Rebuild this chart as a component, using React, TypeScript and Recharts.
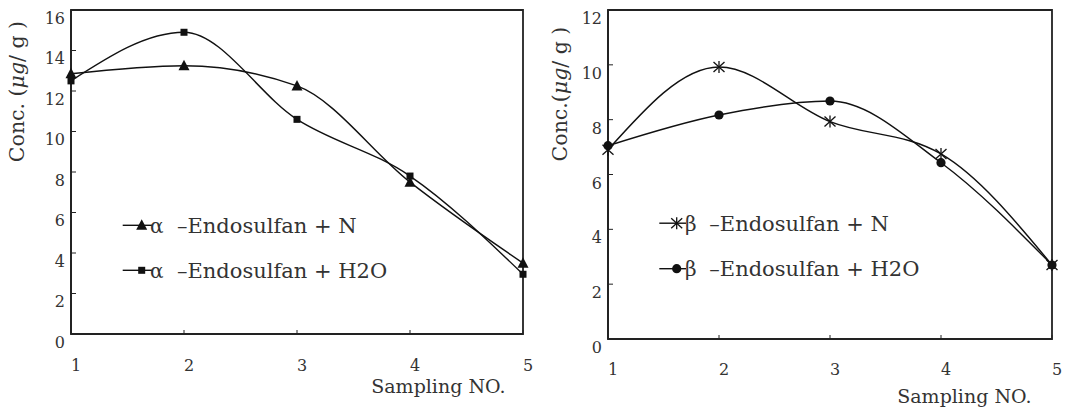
import { Line, LineChart, ReferenceArea, XAxis, YAxis } from "recharts";

// values
const samplingNo = [1, 2, 3, 4, 5];
const alphaN = [12.85, 13.25, 12.25, 7.5, 3.5];
const alphaH2O = [12.5, 14.9, 10.6, 7.8, 2.95];
const betaN = [6.9, 9.92, 7.93, 6.75, 2.7];
const betaH2O = [7.05, 8.17, 8.68, 6.43, 2.7];

const alphaTicks = [0, 2, 4, 6, 8, 10, 12, 14, 16];
const betaTicks = [0, 2, 4, 6, 8, 10, 12];

const alphaNames = ["α –Endosulfan + N", "α –Endosulfan + H2O"];
const betaNames = ["β –Endosulfan + N", "β –Endosulfan + H2O"];

const alphaRows = samplingNo.map((n, i) => ({ n, s1: alphaN[i], s2: alphaH2O[i] }));
const betaRows = samplingNo.map((n, i) => ({ n, s1: betaN[i], s2: betaH2O[i] }));

const FONT = "'DejaVu Serif', serif";
const INK = "#222";
const TXT = "#333";

type Mark = "triangle" | "square" | "asterisk" | "circle";

function Marker({ kind, cx, cy }: { kind: Mark; cx: number; cy: number }) {
  if (kind === "triangle") {
    return (
      <polygon
        points={`${cx},${cy - 6} ${cx - 5.5},${cy + 4.5} ${cx + 5.5},${cy + 4.5}`}
        fill="#111"
      />
    );
  }
  if (kind === "square") {
    return <rect x={cx - 3.5} y={cy - 3.5} width={7} height={7} fill="#111" />;
  }
  if (kind === "circle") {
    return <circle cx={cx} cy={cy} r={4.6} fill="#111" />;
  }
  return (
    <g stroke="#111" strokeWidth={1.3}>
      <line x1={cx} x2={cx} y1={cy - 6} y2={cy + 6} />
      <line x1={cx - 5.5} x2={cx + 5.5} y1={cy - 5} y2={cy + 5} />
      <line x1={cx - 5.5} x2={cx + 5.5} y1={cy + 5} y2={cy - 5} />
    </g>
  );
}

function XTick(props: any) {
  const { x, y, payload, dy } = props;
  return (
    <g>
      <line x1={x} x2={x} y1={y} y2={y - 4} stroke={INK} strokeWidth={1} />
      <text x={x + 5} y={y + dy} textAnchor="middle" fontSize={16} fontFamily={FONT} fill={TXT}>
        {payload.value}
      </text>
    </g>
  );
}

function YTick(props: any) {
  const { x, y, payload, dy } = props;
  return (
    <g>
      <line x1={x} x2={x + 5} y1={y} y2={y} stroke={INK} strokeWidth={1} />
      <text x={x - 6} y={y + dy} textAnchor="end" fontSize={16} fontFamily={FONT} fill={TXT}>
        {payload.value}
      </text>
    </g>
  );
}

type LegendPos = {
  lineX1: number;
  lineX2: number;
  markX: number;
  greekX: number;
  textX: number;
  baseline: number;
  gap: number;
  mid: number;
};

type PanelProps = {
  left: number;
  width: number;
  margin: { top: number; right: number; bottom: number; left: number };
  yAxisWidth: number;
  xAxisHeight: number;
  yTicks: number[];
  rows: { n: number; s1: number; s2: number }[];
  names: string[];
  marks: Mark[];
  xTickDy: number;
  yTickDy: number;
  yTitle: string;
  yTitleX: number;
  yTitleY: number;
  xTitleX: number;
  xTitleY: number;
  legend: LegendPos;
};

function Panel(p: PanelProps) {
  const yMax = p.yTicks[p.yTicks.length - 1];
  const keys = ["s1", "s2"];
  const [pre, post] = p.yTitle.split("μg");
  return (
    <div style={{ position: "absolute", left: p.left, top: 0 }}>
      <LineChart width={p.width} height={411} data={p.rows} margin={p.margin}>
        <XAxis
          type="number"
          dataKey="n"
          domain={[1, 5]}
          ticks={samplingNo}
          interval={0}
          height={p.xAxisHeight}
          tickSize={0}
          tickMargin={0}
          tickLine={false}
          axisLine={{ stroke: INK, strokeWidth: 1.8 }}
          tick={<XTick dy={p.xTickDy} />}
        />
        <YAxis
          type="number"
          domain={[0, yMax]}
          ticks={p.yTicks}
          interval={0}
          width={p.yAxisWidth}
          tickSize={0}
          tickMargin={0}
          tickLine={false}
          axisLine={{ stroke: INK, strokeWidth: 1.8 }}
          tick={<YTick dy={p.yTickDy} />}
        />
        <ReferenceArea
          x1={1}
          x2={5}
          y1={0}
          y2={yMax}
          fill="none"
          fillOpacity={0}
          stroke={INK}
          strokeWidth={1.8}
        />
        {keys.map((k, si) => (
          <Line
            key={k}
            dataKey={k}
            name={p.names[si]}
            type="monotone"
            stroke="#111"
            strokeWidth={1.4}
            dot={(d: any) => (
              <Marker key={`${k}-${d.index}`} kind={p.marks[si]} cx={d.cx} cy={d.cy} />
            )}
            activeDot={false}
            isAnimationActive={false}
          />
        ))}
        <text
          transform={`translate(${p.yTitleX},${p.yTitleY}) rotate(-90)`}
          textAnchor="middle"
          fontSize={20.5}
          fontFamily={FONT}
          fill={TXT}
        >
          {pre}
          <tspan fontStyle="italic">μg</tspan>
          {post}
        </text>
        <text
          x={p.xTitleX}
          y={p.xTitleY}
          textAnchor="middle"
          fontSize={19}
          fontFamily={FONT}
          fill={TXT}
        >
          Sampling NO.
        </text>
        <g>
          {p.names.map((name, i) => {
            const base = p.legend.baseline + i * p.legend.gap;
            const cy = base - p.legend.mid;
            return (
              <g key={name}>
                <line
                  x1={p.legend.lineX1}
                  x2={p.legend.lineX2}
                  y1={cy}
                  y2={cy}
                  stroke="#111"
                  strokeWidth={1.4}
                />
                <Marker kind={p.marks[i]} cx={p.legend.markX} cy={cy} />
                <text x={p.legend.greekX} y={base} fontSize={20} fontFamily={FONT} fill={TXT}>
                  {name.slice(0, 1)}
                </text>
                <text x={p.legend.textX} y={base} fontSize={21} fontFamily={FONT} fill={TXT}>
                  {name.slice(2)}
                </text>
              </g>
            );
          })}
        </g>
      </LineChart>
    </div>
  );
}

export default function App() {
  return (
    <div style={{ position: "absolute", left: 0, top: 0, width: 1066, height: 411, background: "#fff" }}>
      <Panel
        left={0}
        width={545}
        margin={{ top: 10, right: 22, bottom: 0, left: 11 }}
        yAxisWidth={60}
        xAxisHeight={77}
        yTicks={alphaTicks}
        rows={alphaRows}
        names={alphaNames}
        marks={["triangle", "square"]}
        xTickDy={37}
        yTickDy={13.5}
        yTitle="Conc. (μg/ g )"
        yTitleX={24}
        yTitleY={91.5}
        xTitleX={438.4}
        xTitleY={392.5}
        legend={{ lineX1: 122.7, lineX2: 152, markX: 141.7, greekX: 150, textX: 177, baseline: 233.3, gap: 45, mid: 8 }}
      />
      <Panel
        left={545}
        width={521}
        margin={{ top: 10, right: 14, bottom: 0, left: 8 }}
        yAxisWidth={55}
        xAxisHeight={72}
        yTicks={betaTicks}
        rows={betaRows}
        names={betaNames}
        marks={["asterisk", "circle"]}
        xTickDy={35.5}
        yTickDy={14}
        yTitle="Conc.(μg/ g )"
        yTitleX={22.3}
        yTitleY={94}
        xTitleX={419.4}
        xTitleY={403}
        legend={{ lineX1: 114.3, lineX2: 141, markX: 131.7, greekX: 140, textX: 164.3, baseline: 230.7, gap: 45.5, mid: 7.5 }}
      />
    </div>
  );
}
